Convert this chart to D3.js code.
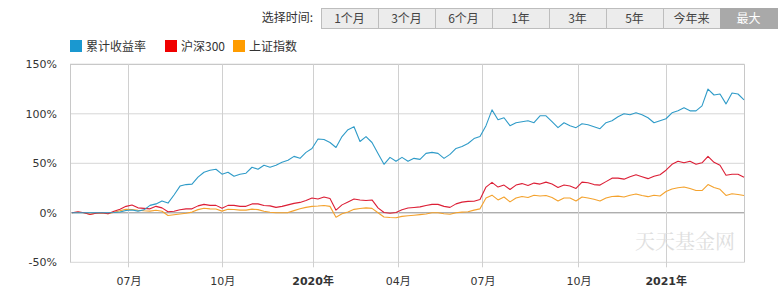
<!DOCTYPE html>
<html>
<head>
<meta charset="utf-8">
<script src="https://cdn.jsdelivr.net/npm/d3@7"></script>
<style>
  body { margin: 0; background: #fff; }
  svg { display: block; }
</style>
</head>
<body>
<svg id="chart" width="782" height="297"></svg>
<script>
// range buttons
const ranges = ['1个月', '3个月', '6个月', '1年', '3年', '5年', '今年来', '最大'];
const activeRange = '最大';

// series names
const seriesNames = ['累计收益率', '沪深300', '上证指数'];

// x ticks (position in sample index) and labels
const tickAt = [9.4, 25.05, 40.1, 54.3, 68.4, 84.4, 98.95];
const tickLabels = ['07月', '10月', '2020年', '04月', '07月', '10月', '2021年'];
const yTicks = [-50, 0, 50, 100, 150];

// cumulative return (%) sampled across the period
const fund = [0, 0, 0, 0, 0, 0, 0, 0.3, 0.8, 2.3, 2.8, 1.7, 3, 7.5, 9, 12, 9.8, 18, 27, 28.5,
  29, 36, 41, 43, 44, 39, 41, 37, 39, 40, 46, 44, 48, 46, 48, 51, 53, 57, 55, 61,
  65, 74.5, 74, 71, 66, 77, 84, 87, 72, 77, 71, 60, 49, 56, 52, 56, 52, 55, 54, 60,
  61, 60, 55, 59, 65, 67, 70, 75, 77, 88, 104, 94, 96, 88, 91, 92, 93, 91, 98, 98,
  92, 86, 91, 88, 86, 90, 89, 87, 85, 91, 93, 97, 100, 99, 101, 99, 96, 91, 93, 95,
  101, 103, 106, 103, 103, 108, 125, 119, 120, 110, 121, 120, 114];
const hs300 = [0, 1, 0, -1.7, -0.5, 0, -1, 1.5, 3.5, 6.5, 7.8, 5, 4.5, 4, 6.5, 5, 1, 1.5, 3, 4,
  4, 7, 8.5, 7.5, 7.5, 4.5, 7.5, 7.5, 6.5, 6.5, 9, 9, 7.4, 7, 5.5, 6.5, 8, 9.5, 10.5, 12.5,
  15, 14, 16, 14.5, 2.7, 8, 11, 14, 13, 12.5, 13, 5, 0.3, -0.5, 0.3, 3, 4.8, 5.4, 6, 7.4,
  8.5, 8.5, 6.5, 5.5, 9, 10.8, 11.5, 11.7, 13.5, 26, 30.7, 26, 28, 23.5, 28, 29.5, 27.5, 30, 29, 31,
  29, 25.6, 28, 27, 24.6, 31, 30.3, 28.5, 28, 31.5, 35, 35, 34, 36.5, 38.5, 36.5, 34.5, 37, 38.5, 43,
  49, 52, 50.5, 52, 49, 50.5, 57, 51, 48, 38, 39, 39, 36];
const sh = [0, 0.5, 0, -1.5, -0.5, -0.5, -1, 0.5, 2, 3.5, 3.4, 2.5, 2, 1.7, 2.5, 1.5, -2.7, -2, -1.2, -0.5,
  0.7, 3.2, 4.6, 4, 3.8, 1.7, 3.5, 3.4, 2.7, 2.7, 3.7, 3.2, 1.5, 0.5, 0, 0, 0.2, 2.2, 4, 5.5,
  6.5, 6.8, 7.4, 6.5, -4.4, -1, 0.8, 3.5, 4.4, 5, 4.5, 0, -4.3, -4.8, -5, -3.6, -3, -2.4, -1.8, -1.2,
  0, 0, -1, -1.5, 0, 0.7, 1, 2.7, 4, 15, 17.8, 13, 16, 11, 15, 16.5, 15.5, 17.8, 17, 17.5,
  15.5, 12, 15, 15, 12, 16, 15, 13.6, 12, 15, 16.5, 16.8, 16, 17.8, 19, 17.5, 16.3, 17.7, 17, 21.5,
  24, 25.3, 26, 24.5, 22.5, 22.5, 28.5, 25.5, 23.7, 17.5, 19.2, 18.5, 17.5];

const lineColors = ['#2f9bc8', '#dc1f36', '#f4a22d'];
const legendColors = ['#1a98d0', '#f00000', '#ff9c00'];
const series = [fund, hs300, sh];

const svg = d3.select('#chart');
const font = 'Verdana, "DejaVu Sans", "Noto Sans CJK SC", sans-serif';
const cjkFont = '"Noto Sans CJK SC", sans-serif';

svg.append('rect').attr('width', 782).attr('height', 297).attr('fill', '#fff');

// ---- range selector ----
svg.append('text')
  .attr('x', 313).attr('y', 22)
  .attr('text-anchor', 'end')
  .style('font', `12px ${cjkFont}`)
  .attr('fill', '#333')
  .text('选择时间:');

const btnW = 57;
const btn = svg.append('g').attr('class', 'ranges')
  .selectAll('g').data(ranges).join('g')
  .attr('transform', (d, i) => `translate(${321 + i * btnW},8)`);
btn.append('rect')
  .attr('x', 0.5).attr('y', 0.5)
  .attr('width', btnW).attr('height', 20)
  .attr('fill', d => d === activeRange ? '#a9a9a9' : '#ececec')
  .attr('stroke', d => d === activeRange ? '#a9a9a9' : '#bdbdbd');
btn.append('text')
  .attr('x', btnW / 2).attr('y', 15)
  .attr('text-anchor', 'middle')
  .style('font', `12px ${cjkFont}`)
  .attr('fill', d => d === activeRange ? '#fff' : '#444')
  .text(d => d);

// ---- legend ----
const legendX = [70, 165, 233];
const legend = svg.append('g').attr('class', 'legend')
  .selectAll('g').data(seriesNames).join('g')
  .attr('transform', (d, i) => `translate(${legendX[i]},40)`);
legend.append('rect')
  .attr('width', 12).attr('height', 12)
  .attr('fill', (d, i) => legendColors[i]);
legend.append('text')
  .attr('x', 16).attr('y', 11)
  .style('font', `12px ${cjkFont}`)
  .attr('fill', '#333')
  .text(d => d);

// ---- plot ----
const plotL = 70, plotR = 744.5, plotT = 64.3, plotB = 262.3;
const x = d3.scaleLinear().domain([0, fund.length - 1]).range([72, 744]);
const y = d3.scaleLinear().domain([-50, 150]).range([plotB, plotT]);

// horizontal grid
svg.append('g')
  .selectAll('line').data(yTicks).join('line')
  .attr('x1', plotL).attr('x2', plotR)
  .attr('y1', d => y(d)).attr('y2', d => y(d))
  .attr('stroke', d => d === 0 ? '#8c8c8c' : (d === 150 ? '#bbbbbb' : '#d6d6d6'))
  .attr('stroke-width', 1);

// vertical grid (date ticks) with small ticks under the plot
svg.append('g')
  .selectAll('line').data(tickAt).join('line')
  .attr('x1', d => Math.round(x(d)) + 0.5).attr('x2', d => Math.round(x(d)) + 0.5)
  .attr('y1', plotT).attr('y2', plotB + 5)
  .attr('stroke', '#d0d0d0');

// frame
svg.append('line').attr('x1', plotL + 0.5).attr('x2', plotL + 0.5).attr('y1', plotT).attr('y2', plotB).attr('stroke', '#c8c8c8');
svg.append('line').attr('x1', plotR).attr('x2', plotR).attr('y1', plotT).attr('y2', plotB).attr('stroke', '#c8c8c8');

// y axis labels
const yAxis = d3.axisLeft(y).tickValues(yTicks).tickSize(0).tickPadding(0).tickFormat(d => d + '%');
svg.append('g')
  .attr('transform', `translate(${plotL - 13},0)`)
  .call(yAxis)
  .call(g => g.select('.domain').remove())
  .call(g => g.selectAll('text').style('font', `11px ${font}`).attr('fill', '#333'));

// x axis labels
const xAxis = d3.axisBottom(x).tickValues(tickAt).tickSize(0).tickPadding(0)
  .tickFormat((d, i) => tickLabels[i]);
svg.append('g')
  .attr('transform', `translate(0,${plotB + 15})`)
  .call(xAxis)
  .call(g => g.select('.domain').remove())
  .call(g => g.selectAll('text')
    .style('font', `11px ${font}`)
    .style('font-weight', (d, i) => tickLabels[i].includes('年') ? 'bold' : 'normal')
    .attr('fill', '#333'));

// watermark
svg.append('text')
  .attr('x', 685).attr('y', 249)
  .attr('text-anchor', 'middle')
  .style('font', `20px "Noto Serif CJK SC", ${cjkFont}`)
  .attr('fill', '#dedede')
  .text('天天基金网');

// lines (drawn bottom-up so the fund line sits on top)
const line = d3.line().x((d, i) => x(i)).y(d => y(d));
svg.append('g').attr('class', 'lines')
  .selectAll('path').data(series.slice().reverse()).join('path')
  .attr('d', line)
  .attr('fill', 'none')
  .attr('stroke', (d, i) => lineColors[series.length - 1 - i])
  .attr('stroke-width', 1.1)
  .attr('stroke-linejoin', 'round');
</script>
</body>
</html>
